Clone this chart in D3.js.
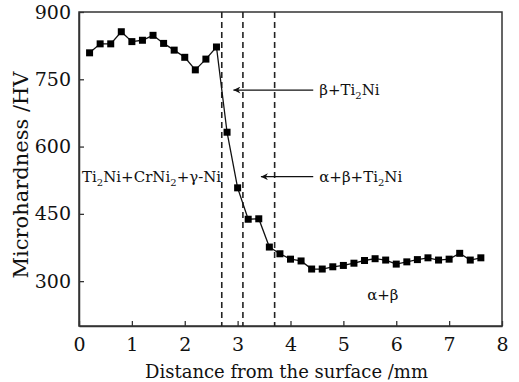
<!DOCTYPE html>
<html>
<head>
<meta charset="utf-8">
<script src="https://cdn.jsdelivr.net/npm/d3@7"></script>
<style>
  body { margin: 0; background: #fff; }
</style>
</head>
<body>
<div id="chart"></div>
<script>
// distance from surface (mm) and microhardness (HV)
const distance = [0.2, 0.4, 0.6, 0.8, 1.0, 1.2, 1.4, 1.6, 1.8, 2.0, 2.2, 2.4, 2.6,
  2.8, 3.0, 3.2, 3.4, 3.6, 3.8, 4.0, 4.2, 4.4, 4.6, 4.8, 5.0, 5.2, 5.4, 5.6, 5.8,
  6.0, 6.2, 6.4, 6.6, 6.8, 7.0, 7.2, 7.4, 7.6];
const hardness = [809, 829, 829, 856, 834, 837, 848, 830, 815, 799, 771, 795, 822,
  632, 508, 438, 439, 376, 361, 349, 345, 327, 327, 332, 335, 340, 346, 350, 347,
  338, 343, 348, 352, 347, 349, 362, 347, 352];
const boundaries = [2.7, 3.1, 3.7];
const xTicks = [0, 1, 2, 3, 4, 5, 6, 7, 8];
const yTicks = [300, 450, 600, 750, 900];

const font = "'DejaVu Serif', serif";

const margin = {top: 12, right: 17, bottom: 56, left: 79};
const width = 519 - margin.left - margin.right;
const height = 382 - margin.top - margin.bottom;

const svg = d3.select("#chart")
    .append("svg")
    .attr("width", 519)
    .attr("height", 382)
    .style("font-family", font)
    .append("g")
    .attr("transform", "translate(" + margin.left + "," + margin.top + ")");

const x = d3.scaleLinear().domain([0, 8]).range([0, width]);
const y = d3.scaleLinear().domain([200, 900]).range([height, 0]);

const axisColor = "#333";

// frame
svg.append("rect")
    .attr("width", width)
    .attr("height", height)
    .attr("fill", "none")
    .attr("stroke", axisColor)
    .attr("stroke-width", 1.5);

// axes, ticks pointing inward
const gx = svg.append("g")
    .attr("transform", "translate(0," + height + ")")
    .call(d3.axisBottom(x).tickValues(xTicks).tickSize(-5).tickPadding(12).tickSizeOuter(0));

const gy = svg.append("g")
    .call(d3.axisLeft(y).tickValues(yTicks).tickSize(-5).tickPadding(8).tickSizeOuter(0));

[gx, gy].forEach(g => {
    g.attr("font-family", font);
    g.selectAll("text").style("font-size", "19px").attr("fill", "#111");
    g.select(".domain").attr("stroke", axisColor).attr("stroke-width", 1.5);
    g.selectAll(".tick line").attr("stroke", axisColor).attr("stroke-width", 1.3);
});

// axis labels
svg.append("text")
    .attr("x", width / 2 - 4)
    .attr("y", height + 52)
    .attr("text-anchor", "middle")
    .attr("fill", "#111")
    .style("font-size", "18px")
    .text("Distance from the surface /mm");

svg.append("text")
    .attr("transform", "rotate(-90)")
    .attr("x", -height / 2 - 6)
    .attr("y", -51)
    .attr("text-anchor", "middle")
    .attr("fill", "#111")
    .style("font-size", "21px")
    .text("Microhardness /HV");

// phase boundaries
svg.selectAll(".boundary")
    .data(boundaries)
    .enter().append("line")
    .attr("class", "boundary")
    .attr("x1", d => x(d))
    .attr("x2", d => x(d))
    .attr("y1", 0)
    .attr("y2", height)
    .attr("stroke", "#222")
    .attr("stroke-width", 1.6)
    .attr("stroke-dasharray", "6,4");

// data line and markers
const pts = distance.map((d, i) => [d, hardness[i]]);
svg.append("path")
    .datum(pts)
    .attr("fill", "none")
    .attr("stroke", "#111")
    .attr("stroke-width", 1.3)
    .attr("d", d3.line().x(d => x(d[0])).y(d => y(d[1])));

svg.selectAll(".pt")
    .data(pts)
    .enter().append("rect")
    .attr("class", "pt")
    .attr("x", d => x(d[0]) - 3.5)
    .attr("y", d => y(d[1]) - 3.5)
    .attr("width", 7)
    .attr("height", 7)
    .attr("fill", "#000");

// arrows (head drawn along +x, orient auto turns it with the line)
svg.append("defs").append("marker")
    .attr("id", "arrow")
    .attr("viewBox", "0 0 10 10")
    .attr("refX", 10)
    .attr("refY", 5)
    .attr("markerWidth", 11)
    .attr("markerHeight", 7)
    .attr("markerUnits", "userSpaceOnUse")
    .attr("orient", "auto")
    .append("path")
    .attr("d", "M10,5 L0,0 L3,5 L0,10 Z")
    .attr("fill", "#111");

const arrows = [
    {from: 4.43, to: 2.92, v: 726, parts: ["β+Ti", "2", "Ni"]},
    {from: 4.43, to: 3.44, v: 533, parts: ["α+β+Ti", "2", "Ni"]}
];

function subText(t, parts) {
    parts.forEach((p, i) => {
        const s = t.append("tspan").text(p);
        if (i % 2 === 1) s.attr("dy", 4).style("font-size", "10px");
        else if (i > 0) s.attr("dy", -4);
    });
}

arrows.forEach(a => {
    svg.append("line")
        .attr("x1", x(a.from))
        .attr("x2", x(a.to))
        .attr("y1", y(a.v))
        .attr("y2", y(a.v))
        .attr("stroke", "#111")
        .attr("stroke-width", 1.3)
        .attr("marker-end", "url(#arrow)");
    const t = svg.append("text")
        .attr("x", x(a.from) + 6)
        .attr("y", y(a.v) + 5)
        .attr("fill", "#111")
        .style("font-size", "15px");
    subText(t, a.parts);
});

// phase labels
const left = svg.append("text")
    .attr("x", 3)
    .attr("y", y(533) + 5)
    .attr("fill", "#111")
    .style("font-size", "15px");
subText(left, ["Ti", "2", "Ni+CrNi", "2", "+γ-Ni"]);

svg.append("text")
    .attr("x", x(5.45))
    .attr("y", y(270) + 5)
    .attr("fill", "#111")
    .style("font-size", "15px")
    .text("α+β");
</script>
</body>
</html>
